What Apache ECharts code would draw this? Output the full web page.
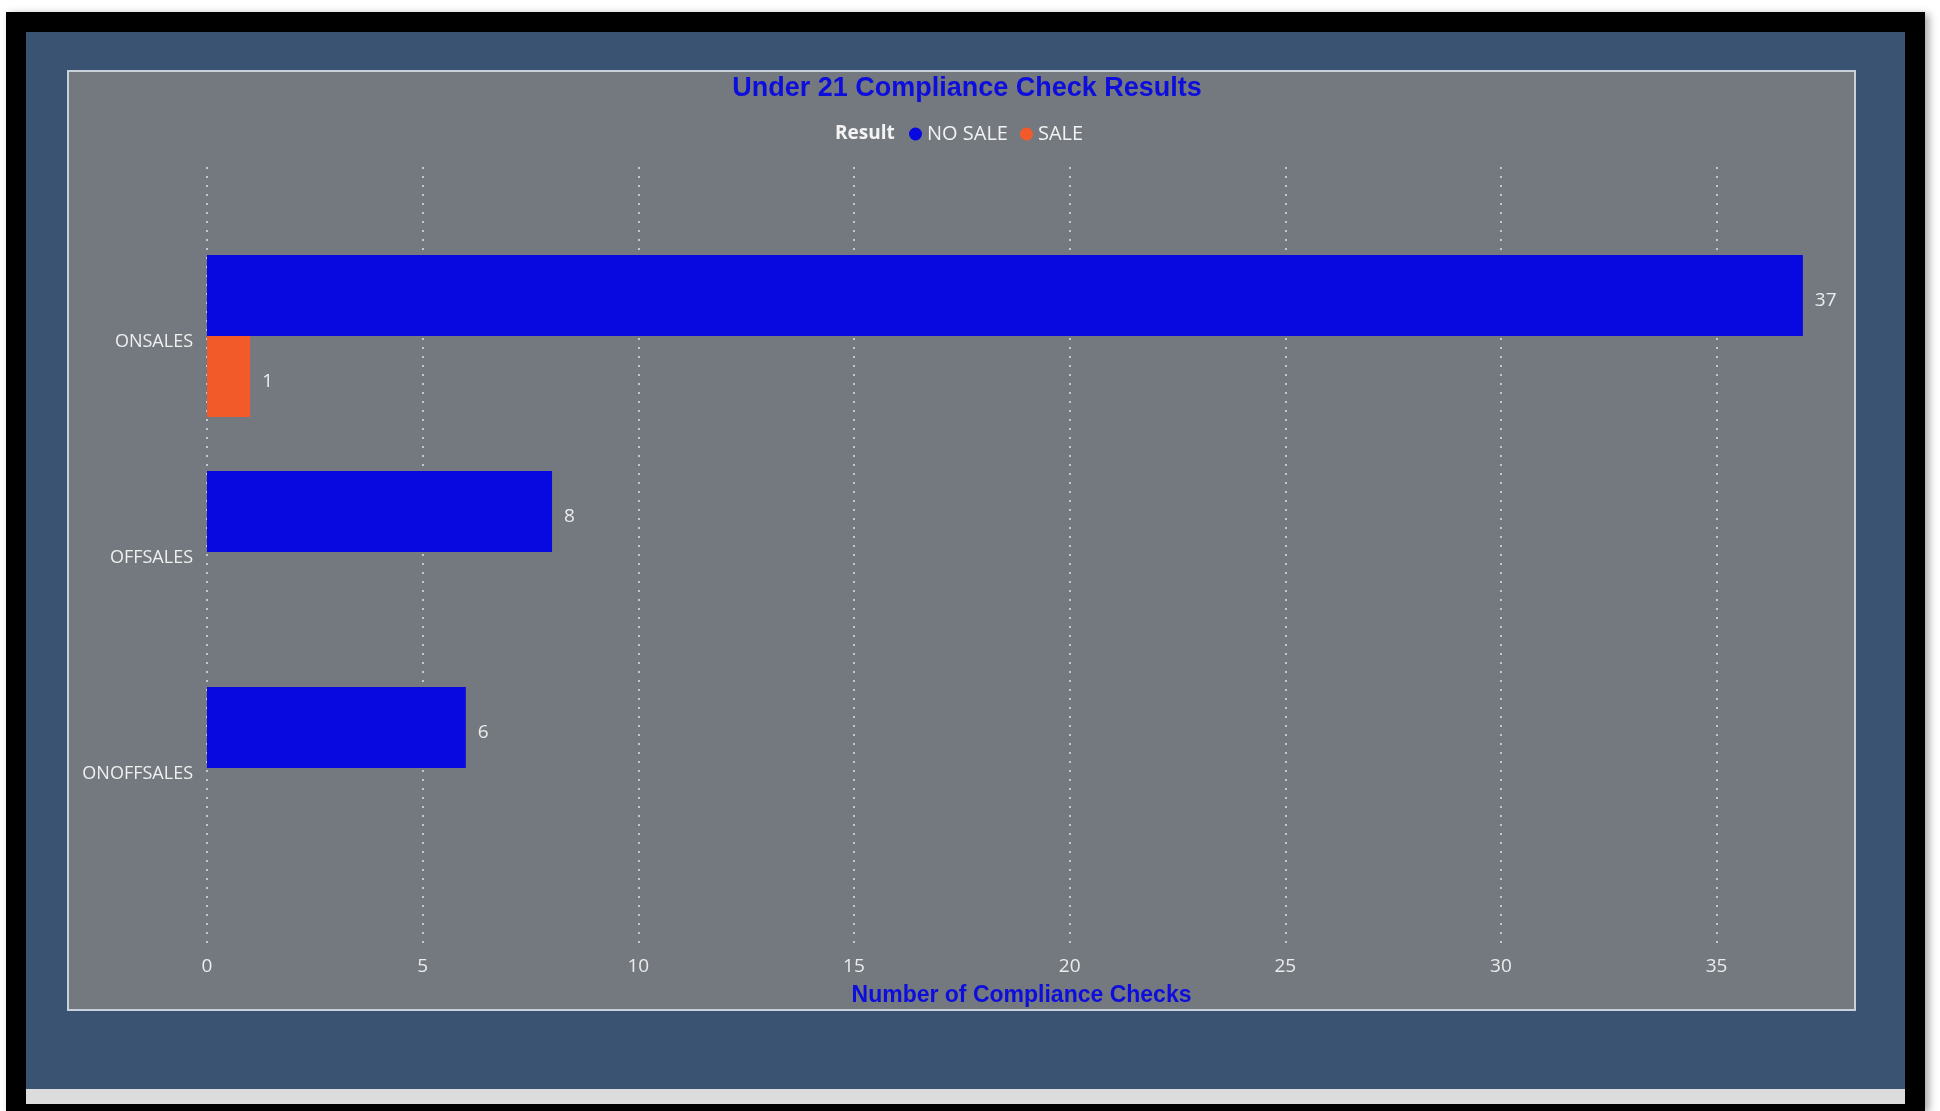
<!DOCTYPE html>
<html>
<head>
<meta charset="utf-8">
<script src="https://cdn.jsdelivr.net/npm/echarts@6/dist/echarts.min.js"></script>
<style>
  html, body { margin: 0; padding: 0; background: #ffffff; width: 1940px; height: 1111px; overflow: hidden; }
  .frame { position: absolute; left: 6px; top: 12px; width: 1919px; height: 1099px; background: #000; box-shadow: 4px 2px 8px rgba(0,0,0,0.35); }
  .blue { position: absolute; left: 26px; top: 32px; width: 1879px; height: 1057px; background: #3b5372; }
  .strip { position: absolute; left: 26px; top: 1089px; width: 1879px; height: 15px; background: #dcdcdc; }
  .panel { position: absolute; left: 67px; top: 70px; width: 1785px; height: 937px; background: #747980; border: 2px solid #c8d0dc; }
  #chart { position: absolute; left: 0; top: 0; width: 1940px; height: 1111px; }
</style>
</head>
<body>
<div class="frame"></div>
<div class="blue"></div>
<div class="strip"></div>
<div class="panel"></div>
<div id="chart"></div>
<script>
const categories = ['ONSALES', 'OFFSALES', 'ONOFFSALES'];
const noSaleValues = [37, 8, 6];
const saleValues = [1, null, null];
const seriesNames = ['NO SALE', 'SALE'];
const xTicks = { min: 0, max: 38, interval: 5 };

const chart = echarts.init(document.getElementById('chart'), null, { renderer: 'canvas' });
const labelFont = "'Open Sans', 'Noto Sans', sans-serif";
const gridLeft = 207, gridWidth = 1639;

const option = {
  backgroundColor: 'transparent',
  animation: false,
  title: [
    {
      text: 'Under 21 Compliance Check Results',
      left: 962, top: 70, textAlign: 'center',
      textStyle: { color: '#0d0ddc', fontFamily: "'Liberation Sans', Arial, sans-serif", fontWeight: 'bold', fontSize: 27 }
    },
    {
      text: 'Result',
      left: 830, top: 119,
      textStyle: { color: '#f4f4f4', fontFamily: labelFont, fontWeight: 'bold', fontSize: 19 }
    }
  ],
  legend: {
    data: seriesNames,
    left: 909, top: 124, padding: 0,
    icon: 'circle', itemWidth: 13, itemHeight: 13, itemGap: 12,
    textStyle: { color: '#f2f2f2', fontFamily: labelFont, fontSize: 20 }
  },
  grid: [
    { left: gridLeft, width: gridWidth, top: 228, height: 648, containLabel: false },
    { left: gridLeft, width: gridWidth, top: 167, height: 779, containLabel: false }
  ],
  xAxis: [
    { type: 'value', gridIndex: 0, min: xTicks.min, max: xTicks.max, interval: xTicks.interval, show: false, splitLine: { show: false } },
    {
      type: 'value', gridIndex: 1, min: xTicks.min, max: xTicks.max, interval: xTicks.interval,
      axisLine: { show: false }, axisTick: { show: false },
      axisLabel: { color: '#ececec', fontFamily: labelFont, fontSize: 19, margin: 11, showMaxLabel: false },
      splitLine: { show: true, showMaxLine: false, lineStyle: { color: '#c4c7cc', width: 2, type: [2, 7] } },
      name: 'Number of Compliance Checks', nameLocation: 'middle', nameGap: 38,
      nameTextStyle: { color: '#0d0ddc', fontFamily: "'Liberation Sans', Arial, sans-serif", fontWeight: 'bold', fontSize: 23, padding: [0, 10, 0, 0] }
    }
  ],
  yAxis: [
    {
      type: 'category', gridIndex: 0, data: categories, inverse: true,
      axisLine: { show: false }, axisTick: { show: false }, splitLine: { show: false },
      axisLabel: { color: '#f0f0f0', fontFamily: labelFont, fontSize: 18, margin: 14, verticalAlign: 'top', lineHeight: 11 }
    },
    { type: 'value', gridIndex: 1, show: false }
  ],
  series: [
    {
      name: seriesNames[0], type: 'bar', xAxisIndex: 0, yAxisIndex: 0,
      data: noSaleValues, barGap: '0%', barCategoryGap: '25%',
      itemStyle: { color: '#0808e0' },
      label: { show: true, position: 'right', distance: 12, offset: [0, 5], color: '#ececec', fontFamily: labelFont, fontSize: 19 }
    },
    {
      name: seriesNames[1], type: 'bar', xAxisIndex: 0, yAxisIndex: 0,
      data: saleValues, barGap: '0%', barCategoryGap: '25%',
      itemStyle: { color: '#f25a29' },
      label: { show: true, position: 'right', distance: 12, offset: [0, 5], color: '#ececec', fontFamily: labelFont, fontSize: 19 }
    }
  ]
};
chart.setOption(option);
</script>
</body>
</html>
